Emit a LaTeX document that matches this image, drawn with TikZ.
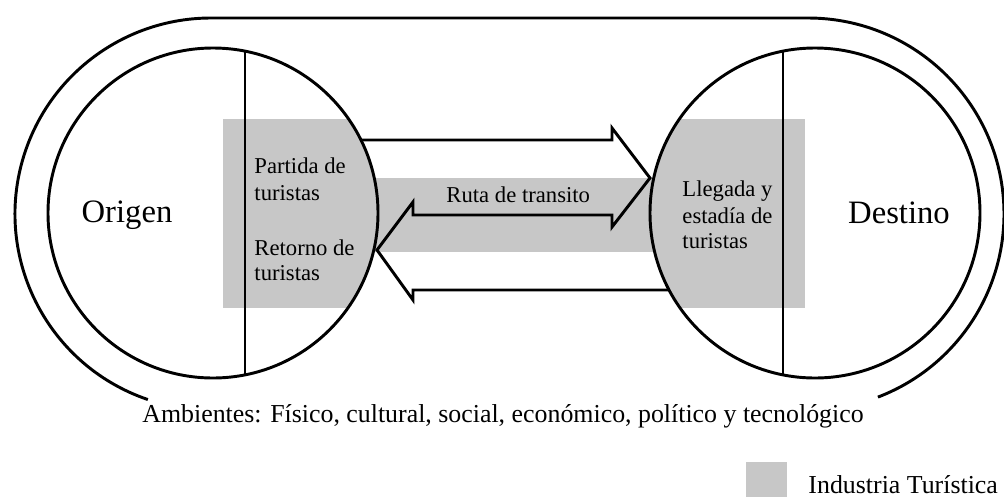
\documentclass[tikz,border=0pt]{standalone}
\usepackage{fontspec}
\setmainfont{Liberation Serif}
\definecolor{indgray}{RGB}{199,199,199}
\begin{document}
\begin{tikzpicture}[x=0.75pt,y=-0.75pt,line width=2.2pt,
  big/.style={inner sep=0pt,font=\fontsize{24.5}{29}\selectfont},
  lbl/.style={inner sep=0pt,anchor=base west,font=\fontsize{17}{20}\selectfont},
  env/.style={inner sep=0pt,anchor=base,font=\fontsize{19.4}{23}\selectfont},
  leg/.style={inner sep=0pt,anchor=base west,font=\fontsize{19.4}{23}\selectfont}]
\useasboundingbox (0,0) rectangle (1004,497);
\coordinate (cL) at (213,213);
\coordinate (cR) at (815,213);
\coordinate (oL) at (211,214);
\coordinate (oR) at (808,214);
% industry gray areas
\begin{scope}
  \clip (cL) circle[radius=165];
  \fill[indgray] (223,119) rectangle (400,308);
\end{scope}
\begin{scope}
  \clip (cR) circle[radius=165];
  \fill[indgray] (630,119) rectangle (805,308);
\end{scope}
\fill[indgray] (360,178) rectangle (668,252);
% outer environment boundary
\coordinate (oStart) at ([shift={(108.8:196)}]oL);
\coordinate (oTopR) at ([shift={(270:196)}]oR);
\draw (oStart) arc[start angle=108.8,end angle=270,radius=196] -- (oTopR)
      arc[start angle=270,end angle=429.1,radius=196];
% origin and destination circles
\draw (cL) circle[radius=165];
\draw (cR) circle[radius=165];
\draw (245,51) -- (245,375);
\draw (783,51) -- (783,375);
% arrows
\draw[line join=miter] (361,140) -- (612,140) -- (612,128) -- (650,178) -- (612,227) -- (612,215)
      -- (413,215) -- (413,202) -- (377,250) -- (413,300) -- (413,290) -- (669,290);
% texts
\node[big,anchor=base] (origen) at (127,222) {Origen};
\node[big,anchor=base] (destino) at (899,223) {Destino};
\node[lbl] (p1) at (253,173) {Partida de};
\node[lbl] (p2) at (253,200) {turistas};
\node[lbl] (r1) at (253,255) {Retorno de};
\node[lbl] (r2) at (253,280) {turistas};
\node[lbl] (ruta) at (445,202) {Ruta de transito};
\node[lbl] (l1) at (681,196) {Llegada y};
\node[lbl] (l2) at (681,223) {estadía de};
\node[lbl] (l3) at (681,248) {turistas};
\node[env] (amb) at (503,422) {Ambientes: Físico, cultural, social, económico, político y tecnológico};
% legend
\fill[indgray] (746,462) rectangle (787,497);
\node[leg] (ind) at (807,493) {Industria Turística};
\end{tikzpicture}
\end{document}
